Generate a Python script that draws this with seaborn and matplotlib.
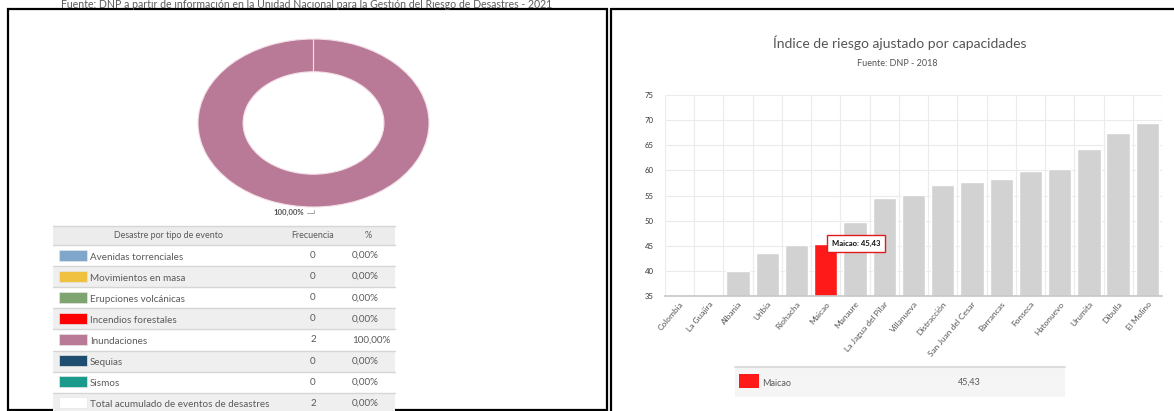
import numpy as np
import pandas as pd
import matplotlib.pyplot as plt
import seaborn as sns
from matplotlib.patches import Rectangle

# ---- left panel: desastres por tipo de evento (2021)
eventos = ["Avenidas torrenciales", "Movimientos en masa", "Erupciones volcánicas",
           "Incendios forestales", "Inundaciones", "Sequias", "Sismos"]
frecuencia = [0, 0, 0, 0, 2, 0, 0]
colores_evento = ["#7fa7c9", "#f0c13e", "#7ea56f", "#ff0000", "#b87a96", "#1d4e6f", "#1a9a8b"]
total_label = "Total acumulado de eventos de desastres"
total_pct_txt = "0,00%"

# ---- right panel: indice de riesgo ajustado por capacidades (2018)
municipios = ["Colombia", "La Guajira", "Albania", "Uribia", "Riohacha", "Maicao",
              "Manaure", "La Jagua del Pilar", "Villanueva", "Distracción",
              "San Juan del Cesar", "Barrancas", "Fonseca", "Hatonuevo", "Urumita",
              "Dibulla", "El Molino"]
indice = [np.nan, np.nan, 40.0, 43.5, 45.2, 45.43, 49.7, 54.5, 55.1, 57.0,
          57.7, 58.2, 59.9, 60.2, 64.3, 67.5, 69.4]
destacado = "Maicao"

W, H = 1174, 411
sns.set_theme(style="white")
plt.rcParams["font.family"] = ["Lato", "DejaVu Sans"]

fig = plt.figure(figsize=(W / 100, H / 100), dpi=100)


def frac(x0, y0, x1, y1):
    # pixel box (top-left origin) -> figure fraction rect
    return [x0 / W, 1 - y1 / H, (x1 - x0) / W, (y1 - y0) / H]


def fmt(v):
    return f"{v:.2f}".replace(".", ",")


# canvas for frames, table and legend box (pixel coords)
cv = fig.add_axes([0, 0, 1, 1])
cv.set_xlim(0, W)
cv.set_ylim(H, 0)
cv.axis("off")

cv.add_patch(Rectangle((8, 9), 599, 401, fill=False, ec="black", lw=1.6))
cv.plot([611, 611], [9, H], color="black", lw=1.6)
cv.plot([611, W], [9, 9], color="black", lw=1.6)

txt_col = "#5a5a5a"
cv.text(307, 7.5, "Fuente: DNP a partir de información en la Unidad Nacional para la Gestión "
        "del Riesgo de Desastres - 2021", ha="center", va="baseline", fontsize=7.6, color=txt_col)

# ---- donut
ax_pie = fig.add_axes(frac(198, 39, 429, 207))
ax_pie.pie(frecuencia, colors=colores_evento, startangle=90, counterclock=False,
           wedgeprops=dict(width=0.39, edgecolor="#f3dde6", linewidth=0.8))
ax_pie.set_aspect("auto")
ax_pie.set_xlim(-1, 1)
ax_pie.set_ylim(-1, 1)
ax_pie.patch.set_alpha(0)
total = sum(frecuencia)
for f in frecuencia:
    if f > 0:
        ax_pie.text(-0.08, -1.07, fmt(f / total * 100) + "%", ha="right", va="center",
                    fontsize=5.6, fontweight="bold", color="#555555", clip_on=False)
        ax_pie.plot([-0.06, 0.0, 0.0], [-1.07, -1.07, -1.03], color="#999999", lw=0.6,
                    clip_on=False)

# ---- table
tx0, tx1 = 53, 395
head_top, head_h, row_h = 226, 19, 21.1
cv.add_patch(Rectangle((tx0, head_top), tx1 - tx0, head_h, color="#ececec", lw=0))
cv.plot([tx0, tx1], [head_top, head_top], color="#d6d6d6", lw=1)
hy = head_top + head_h / 2
cv.text(168, hy, "Desastre por tipo de evento", ha="center", va="center", fontsize=6.4, color=txt_col)
cv.text(313, hy, "Frecuencia", ha="center", va="center", fontsize=6.4, color=txt_col)
cv.text(368, hy, "%", ha="center", va="center", fontsize=6.4, color=txt_col)

rows = list(zip(eventos, frecuencia, colores_evento))
rows.append((total_label, total, "white"))
for i, (nombre, f, col) in enumerate(rows):
    y0 = head_top + head_h + i * row_h
    bg = "#efefef" if i % 2 == 1 else "white"
    cv.add_patch(Rectangle((tx0, y0), tx1 - tx0, row_h, color=bg, lw=0))
    cv.plot([tx0, tx1], [y0, y0], color="#d6d6d6", lw=1)
    cv.add_patch(Rectangle((59, y0 + 4.5), 28, 11, color=col, ec="#e6e6e6", lw=0.5))
    yc = y0 + row_h / 2 + 1.5
    cv.text(90, yc, nombre, ha="left", va="center", fontsize=7.1, color=txt_col)
    cv.text(313, yc - 1.5, str(f), ha="center", va="center", fontsize=7.1, color=txt_col)
    pct = total_pct_txt if nombre == total_label else fmt(f / total * 100) + "%"
    cv.text(352, yc - 1.5, pct, ha="left", va="center", fontsize=7.1, color=txt_col)

# ---- bar chart
df = pd.DataFrame({"municipio": municipios, "indice": indice}).dropna()
pal = {m: ("#ff1a1a" if m == destacado else "#d2d2d2") for m in municipios}

ax = fig.add_axes(frac(665, 95, 1162, 296))
sns.barplot(data=df, x="municipio", y="indice", order=municipios, hue="municipio",
            palette=pal, legend=False, width=0.8, saturation=1, ax=ax)
ax.set_ylim(35, 75)
ax.set_xlim(-0.5, len(municipios) - 0.5)
ax.set_yticks(range(35, 80, 5))
ax.set_xticks(np.arange(-0.5, len(municipios)), minor=True)
ax.grid(axis="y", which="major", color="#ebebeb", lw=0.8)
ax.grid(axis="x", which="minor", color="#ebebeb", lw=0.8)
ax.set_axisbelow(True)
for s in ["top", "right", "left"]:
    ax.spines[s].set_visible(False)
ax.spines["bottom"].set_color("#c8c8c8")
ax.set_xlabel("")
ax.set_ylabel("")
ax.tick_params(axis="y", labelsize=5.6, labelcolor="#333333", length=0, pad=8)
ax.tick_params(axis="x", which="both", length=0, pad=3)
ax.set_xticks(range(len(municipios)))
ax.set_xticklabels(municipios, rotation=50, ha="right", rotation_mode="anchor",
                   fontsize=6, color="#555555")

v = df.loc[df["municipio"] == destacado, "indice"].iloc[0]
xi = municipios.index(destacado)
ax.annotate(f"{destacado}: {fmt(v)}", xy=(xi, v), xytext=(4.5, 0), textcoords="offset points",
            ha="left", va="center", fontsize=5.5, fontweight="bold", color="#111111",
            bbox=dict(boxstyle="square,pad=0.6", fc="white", ec="#e31a1a", lw=1))

fig.text(900 / W, 1 - 43 / H, "Índice de riesgo ajustado por capacidades", ha="center",
         va="center", fontsize=10, color="#555555")
fig.text(897 / W, 1 - 63 / H, "Fuente: DNP - 2018", ha="center", va="center",
         fontsize=6.5, color="#555555")

# legend box under the bars
cv.add_patch(Rectangle((735, 367), 330, 30, color="#f5f5f5", lw=0))
cv.plot([735, 1065], [367, 367], color="#dcdcdc", lw=1.5)
cv.add_patch(Rectangle((739, 374), 20, 14, color=pal[destacado], lw=0))
cv.text(762, 383, destacado, ha="left", va="center", fontsize=6.5, color=txt_col)
cv.text(969, 382, fmt(v), ha="center", va="center", fontsize=6.5, color=txt_col)

fig.savefig("out.png", dpi=100)
